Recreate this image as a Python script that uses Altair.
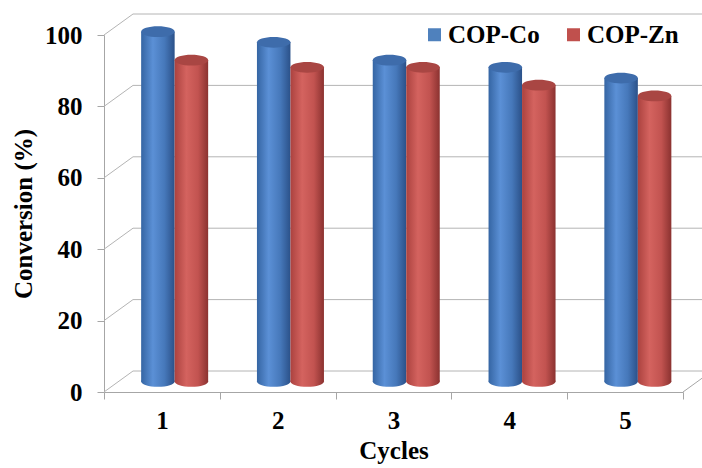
import altair as alt
import pandas as pd

# ---- data ----
cycles = ["1", "2", "3", "4", "5"]
cop_co = [98, 95, 90, 88, 85]
cop_zn = [90, 88, 88, 83, 80]
series = ["COP-Co", "COP-Zn"]
y_ticks = [0, 20, 40, 60, 80, 100]

# ---- styling ----
W, H = 579, 357
DX, DY = 29, -21          # depth of back wall
MY = -10.5                # mid-plane vertical shift
BAR_W = 33.5
OFF_CO, OFF_ZN = -4, 29.5
FONT = "Liberation Serif"
AX = "#a6a6a6"
GRID = "#b4b4b4"
ELL = "M -1 0 A 1 0.32 0 1 1 1 0 A 1 0.32 0 1 1 -1 0 Z"

df = pd.DataFrame({
    "cycle": cycles * 2,
    "series": [series[0]] * len(cycles) + [series[1]] * len(cycles),
    "value": cop_co + cop_zn,
})
grid = pd.DataFrame({"v": y_ticks})

yscale = alt.Scale(domain=[0, 100], nice=False, zero=True)
yaxis = alt.Axis(values=y_ticks, title="Conversion (%)", grid=False, tickSize=7,
                 labelPadding=15, titlePadding=8, domainColor=AX, tickColor=AX)
xscale = alt.Scale(paddingInner=0, paddingOuter=0)
xaxis = alt.Axis(title="Cycles", tickBand="extent", tickSize=7,
                 labelAngle=0, labelPadding=9, titlePadding=5,
                 domainColor=AX, tickColor=AX)
x_enc = alt.X("cycle:N", sort=cycles, scale=xscale, axis=xaxis)


def Y(field):
    return alt.Y(field, scale=yscale, axis=yaxis)


def grad(stops):
    return alt.Gradient(gradient="linear", x1=0, x2=1, y1=0, y2=0,
                        stops=[alt.GradientStop(offset=o, color=c) for o, c in stops])


grad_co = grad([(0, "#3565a3"), (0.35, "#5b90d6"), (0.7, "#4678ba"), (1, "#2b5189")])
grad_zn = grad([(0, "#ab423f"), (0.35, "#d4635f"), (0.7, "#c25350"), (1, "#8b3230")])
top_co = "#3e6cab"
top_zn = "#a94643"

# back wall gridlines
back = alt.Chart(grid).mark_rule(color=GRID, strokeWidth=1, yOffset=DY).encode(
    y=Y("v:Q"), x=alt.value(DX), x2=alt.value(W + DX + 20))

# left side diagonals
diag = alt.Chart(grid).mark_rule(color=GRID, strokeWidth=1, y2Offset=DY).encode(
    y=Y("v:Q"), y2="v:Q", x=alt.value(0), x2=alt.value(DX))

# right floor diagonal
diag_r = alt.Chart(grid).transform_filter(alt.datum.v == 0).mark_rule(
    color=AX, strokeWidth=1, y2Offset=DY).encode(
    y=Y("v:Q"), y2="v:Q", x=alt.value(W), x2=alt.value(W + DX))


def cylinder(name, off, g, top):
    base = alt.Chart(df).transform_filter(alt.datum.series == name)
    bottom = base.mark_point(shape=ELL, size=BAR_W ** 2, filled=True, fill=g,
                             opacity=1, strokeWidth=0, xOffset=off, yOffset=MY).encode(
        x=x_enc, y=alt.Y(datum=0, scale=yscale, axis=yaxis))
    body = base.mark_bar(fill=g, width=BAR_W, xOffset=off, yOffset=MY, y2Offset=MY).encode(
        x=x_enc, y=Y("value:Q"))
    cap = base.mark_point(shape=ELL, size=BAR_W ** 2, filled=True, fill=top,
                          opacity=1, strokeWidth=0, xOffset=off, yOffset=MY).encode(
        x=x_enc, y=Y("value:Q"))
    return [bottom, body, cap]


legend_layer = alt.Chart(df).mark_rect().encode(
    color=alt.Color("series:N", scale=alt.Scale(domain=series, range=["#4f81bd", "#c0504d"]),
                    legend=alt.Legend(title=None, orient="none", direction="horizontal",
                                      legendX=318, legendY=-13, symbolType="square",
                                      symbolSize=169, symbolStrokeWidth=0, labelOffset=1,
                                      columnPadding=21, padding=0,
                                      labelFont=FONT, labelFontWeight="bold",
                                      labelFontSize=25, labelColor="black")),
    x=alt.value(0), x2=alt.value(0), y=alt.value(0), y2=alt.value(0))

chart = alt.layer(
    back, diag, diag_r,
    *cylinder("COP-Co", OFF_CO, grad_co, top_co),
    *cylinder("COP-Zn", OFF_ZN, grad_zn, top_zn),
    legend_layer,
).properties(
    width=W, height=H,
    padding={"left": 104, "top": 35, "right": 19, "bottom": 76},
    autosize=alt.AutoSizeParams(type="none"),
    background="white",
).configure_view(stroke=None).configure_axis(
    labelFont=FONT, titleFont=FONT, labelFontWeight="bold", titleFontWeight="bold",
    labelFontSize=25, titleFontSize=25, labelColor="black", titleColor="black",
)

chart.save("out.html", embed_options={"renderer": "svg", "actions": False})
